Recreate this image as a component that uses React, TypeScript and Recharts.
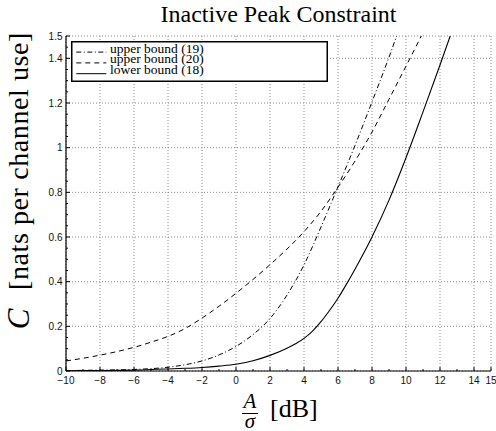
import { LineChart, Line, XAxis, YAxis, CartesianGrid, Legend } from "recharts"

// A/sigma in dB on x, capacity C in nats per channel use on y
const upper19Snr = [-10, -8, -6, -4, -3, -2, -1, 0, 1, 2, 3, 4, 5, 6, 7, 8, 9, 9.45]
const upper19Cap = [0.002, 0.004, 0.007, 0.017, 0.028, 0.045, 0.072, 0.11, 0.163, 0.235, 0.34, 0.475, 0.645, 0.825, 1.01, 1.205, 1.405, 1.5]

const upper20Snr = [-10, -9, -8, -7, -6, -5, -4, -3, -2, -1, 0, 1, 2, 3, 4, 5, 6, 7, 8, 9, 10, 10.9]
const upper20Cap = [0.045, 0.057, 0.071, 0.087, 0.106, 0.129, 0.155, 0.19, 0.237, 0.29, 0.348, 0.41, 0.476, 0.546, 0.624, 0.715, 0.823, 0.94, 1.07, 1.217, 1.365, 1.5]

const lowerSnr = [-10, -8, -6, -4, -3, -2, -1, 0, 1, 2, 3, 3.5, 4, 4.5, 5, 5.5, 6, 6.5, 7, 8, 9, 10, 11, 12, 12.6]
const lowerCap = [0.001, 0.002, 0.004, 0.009, 0.012, 0.016, 0.022, 0.03, 0.046, 0.07, 0.102, 0.122, 0.146, 0.179, 0.221, 0.271, 0.326, 0.389, 0.456, 0.6, 0.765, 0.955, 1.16, 1.37, 1.5]

const legendOrder = ["upper bound (19)", "upper bound (20)", "lower bound (18)"]

const xTicks = [-10, -9, -8, -7, -6, -5, -4, -3, -2, -1, 0, 1, 2, 3, 4, 5, 6, 7, 8, 9, 10, 11, 12, 13, 14, 15]
const xMajor = [-10, -8, -6, -4, -2, 0, 2, 4, 6, 8, 10, 12, 14, 15]
const yTicks = Array.from({ length: 31 }, (_, i) => Number((i * 0.05).toFixed(2)))
const yMajor = [0, 0.2, 0.4, 0.6, 0.8, 1, 1.2, 1.4, 1.5]

const toRows = (snr: number[], cap: number[]) => snr.map((s, i) => ({ snr: s, c: cap[i] }))

const upper19 = toRows(upper19Snr, upper19Cap)
const upper20 = toRows(upper20Snr, upper20Cap)
const lower18 = toRows(lowerSnr, lowerCap)

const SERIF = "'Liberation Serif', 'Times New Roman', serif"
const SANS = "'Liberation Sans', Arial, sans-serif"

const isMajor = (list: number[], v: number) => list.some((m) => Math.abs(m - v) < 1e-6)
const fmtX = (v: number) => (v < 0 ? `\u2212${Math.abs(v)}` : String(v))

function XTick({ x, y, payload }: any) {
  const major = isMajor(xMajor, payload.value)
  return (
    <g>
      <line x1={x} x2={x} y1={y} y2={y - (major ? 4 : 2)} stroke="#000" strokeWidth={1} />
      {major && (
        <text x={x} y={y + 12.5} textAnchor="middle" fontSize={10} fontFamily={SANS} fill="#111">
          {fmtX(payload.value)}
        </text>
      )}
    </g>
  )
}

function YTick({ x, y, payload }: any) {
  const major = isMajor(yMajor, payload.value)
  return (
    <g>
      <line x1={x} x2={x + (major ? 4 : 2)} y1={y} y2={y} stroke="#000" strokeWidth={1} />
      {major && (
        <text x={x - 3.5} y={y + 3.5} textAnchor="end" fontSize={10} fontFamily={SANS} fill="#111">
          {String(payload.value)}
        </text>
      )}
    </g>
  )
}

function XLabel({ viewBox }: any) {
  const { x, y } = viewBox
  const fx = x + 184
  return (
    <g fontFamily={SERIF} fill="#000">
      <text x={fx} y={y + 37} textAnchor="middle" fontSize={21} fontStyle="italic">A</text>
      <line x1={fx - 8} x2={fx + 8} y1={y + 42.5} y2={y + 42.5} stroke="#000" strokeWidth={1} />
      <text x={fx} y={y + 57} textAnchor="middle" fontSize={21} fontStyle="italic">σ</text>
      <text x={x + 204} y={y + 46} fontSize={26}>[dB]</text>
    </g>
  )
}

function YLabel({ viewBox }: any) {
  const { x, y } = viewBox
  const bx = x + 22
  const by = y + 125
  const cx = x + 23
  const cy = y + 283
  return (
    <g fontFamily={SERIF} fill="#000">
      <text x={bx} y={by} transform={`rotate(-90 ${bx} ${by})`} textAnchor="middle" fontSize={28} letterSpacing={0.6}>
        [nats per channel use]
      </text>
      <text x={cx} y={cy} transform={`rotate(-90 ${cx} ${cy})`} textAnchor="middle" fontSize={31} fontStyle="italic">
        C
      </text>
    </g>
  )
}

function LegendBox({ payload }: any) {
  const items = [...(payload || [])].sort(
    (a: any, b: any) => legendOrder.indexOf(a.value) - legendOrder.indexOf(b.value),
  )
  return (
    <svg width={257} height={41} style={{ display: "block" }}>
      <rect x={0.75} y={0.75} width={255.5} height={39.5} fill="#fff" stroke="#000" strokeWidth={1.5} />
      {items.map((entry: any, i: number) => {
        const base = 11.6 + i * 10.8
        return (
          <g key={entry.value}>
            <line
              x1={5.3}
              x2={35.3}
              y1={base - 0.5}
              y2={base - 0.5}
              stroke="#000"
              strokeWidth={1}
              strokeDasharray={entry.payload?.strokeDasharray}
            />
            <text x={39} y={base} fontFamily={SERIF} fontSize={13.5} fill="#000">
              {entry.value}
            </text>
          </g>
        )
      })}
    </svg>
  )
}

const gridX = ({ xAxis, offset }: any) =>
  xMajor.map((v) =>
    typeof xAxis?.scale === "function" ? xAxis.scale(v) : offset.left + ((v + 10) / 25) * offset.width,
  )

const gridY = ({ yAxis, offset }: any) =>
  yMajor.map((v) =>
    typeof yAxis?.scale === "function" ? yAxis.scale(v) : offset.top + (1 - v / 1.5) * offset.height,
  )

export default function App() {
  return (
    <div style={{ position: "absolute", left: 0, top: 0, width: 496, height: 431, background: "#fff" }}>
      <div
        style={{
          position: "absolute",
          left: 66,
          width: 425,
          top: 1.5,
          textAlign: "center",
          fontFamily: SERIF,
          fontSize: 24,
          lineHeight: "24px",
          color: "#000",
          zIndex: 1,
        }}
      >
        Inactive Peak Constraint
      </div>
      <LineChart width={496} height={431} margin={{ top: 36, right: 5, bottom: 30, left: 6 }}>
        <CartesianGrid
          stroke="#8a8a8a"
          strokeDasharray="1 2"
          strokeWidth={1}
          verticalCoordinatesGenerator={gridX}
          horizontalCoordinatesGenerator={gridY}
        />
        <XAxis
          type="number"
          dataKey="snr"
          domain={[-10, 15]}
          ticks={xTicks}
          interval={0}
          allowDataOverflow
          height={30}
          tickSize={0}
          tickMargin={0}
          tickLine={false}
          axisLine={{ stroke: "#000", strokeWidth: 1.2 }}
          tick={<XTick />}
          label={{ content: (p: any) => <XLabel {...p} /> }}
        />
        <YAxis
          type="number"
          domain={[0, 1.5]}
          ticks={yTicks}
          interval={0}
          allowDataOverflow
          width={60}
          tickSize={0}
          tickMargin={0}
          tickLine={false}
          axisLine={{ stroke: "#000", strokeWidth: 1.2 }}
          tick={<YTick />}
          label={{ content: (p: any) => <YLabel {...p} /> }}
        />
        <Legend
          layout="horizontal"
          verticalAlign="middle"
          align="center"
          wrapperStyle={{ left: 71, top: 41, width: "auto", height: "auto" }}
          content={<LegendBox />}
        />
        <Line
          data={upper19}
          dataKey="c"
          name="upper bound (19)"
          type="monotone"
          stroke="#000"
          strokeWidth={1}
          strokeDasharray="5 2.5 1 2.5"
          dot={false}
          activeDot={false}
          isAnimationActive={false}
        />
        <Line
          data={upper20}
          dataKey="c"
          name="upper bound (20)"
          type="monotone"
          stroke="#000"
          strokeWidth={1}
          strokeDasharray="5 4"
          dot={false}
          activeDot={false}
          isAnimationActive={false}
        />
        <Line
          data={lower18}
          dataKey="c"
          name="lower bound (18)"
          type="monotone"
          stroke="#000"
          strokeWidth={1.1}
          dot={false}
          activeDot={false}
          isAnimationActive={false}
        />
      </LineChart>
    </div>
  )
}
